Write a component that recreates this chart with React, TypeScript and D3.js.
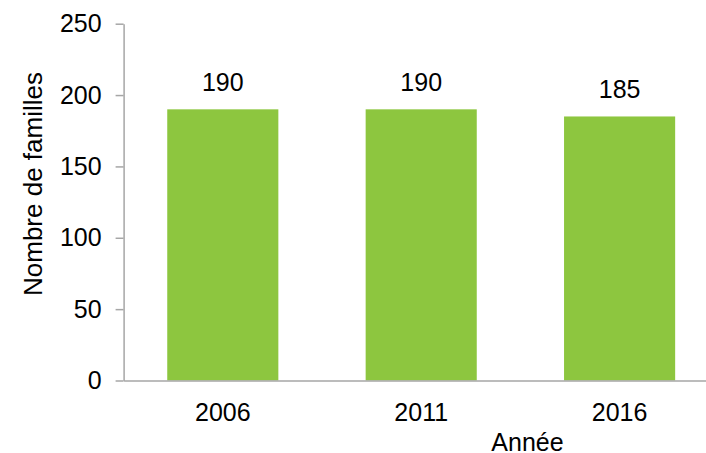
import React, { useEffect, useRef } from "react"
import * as d3 from "d3"

const years = ["2006", "2011", "2016"]
const familles = [190, 190, 185]
const yTicks = [0, 50, 100, 150, 200, 250]

const App = () => {
    const chartRef = useRef<SVGSVGElement | null>(null)

    useEffect(() => {
        if (!chartRef.current) return
        const svg = d3.select(chartRef.current)
        svg.selectAll("*").remove()

        const left = 123.6
        const top = 23.7
        const bottom = 380.5
        const step = 198.4

        const x = d3
            .scaleBand()
            .domain(years)
            .range([left, left + step * years.length])
            .paddingInner(0.44)
            .paddingOuter(0.22)

        const y = d3.scaleLinear().domain([0, 250]).range([bottom, top])

        const font = "'Liberation Sans', Arial, sans-serif"
        const fontSize = "25px"
        const axisColor = "#a6a6a6"

        // bars
        svg.append("g")
            .selectAll("rect")
            .data(years)
            .enter()
            .append("rect")
            .attr("x", (d) => x(d) as number)
            .attr("y", (d, i) => y(familles[i]))
            .attr("width", x.bandwidth())
            .attr("height", (d, i) => bottom - y(familles[i]))
            .attr("fill", "#8dc63f")

        // value labels
        svg.append("g")
            .selectAll("text")
            .data(years)
            .enter()
            .append("text")
            .attr("x", (d) => (x(d) as number) + x.bandwidth() / 2)
            .attr("y", (d, i) => y(familles[i]) - 18)
            .attr("text-anchor", "middle")
            .attr("font-family", font)
            .attr("font-size", fontSize)
            .attr("fill", "#000")
            .text((d, i) => familles[i])

        // y axis
        const yAxis = svg
            .append("g")
            .attr("transform", "translate(" + left + ",0)")
            .call(
                d3
                    .axisLeft(y)
                    .tickValues(yTicks)
                    .tickSize(8)
                    .tickSizeOuter(0)
                    .tickPadding(14),
            )
        yAxis.select(".domain").attr("stroke", axisColor).attr("stroke-width", 1.5)
        yAxis.selectAll(".tick line").attr("stroke", axisColor).attr("stroke-width", 1.5)
        yAxis
            .selectAll(".tick text")
            .attr("font-family", font)
            .attr("font-size", fontSize)
            .attr("fill", "#000")

        // x axis
        const xAxis = svg
            .append("g")
            .attr("transform", "translate(0," + bottom + ")")
            .call(d3.axisBottom(x).tickSize(0).tickSizeOuter(0).tickPadding(23))
        xAxis.select(".domain").attr("stroke", axisColor).attr("stroke-width", 1.5)
        xAxis
            .selectAll(".tick text")
            .attr("font-family", font)
            .attr("font-size", fontSize)
            .attr("fill", "#000")

        // axis titles
        svg.append("text")
            .attr("x", 527.5)
            .attr("y", 451)
            .attr("text-anchor", "middle")
            .attr("font-family", font)
            .attr("font-size", fontSize)
            .attr("fill", "#000")
            .text("Année")

        svg.append("text")
            .attr("transform", "translate(42,184) rotate(-90)")
            .attr("text-anchor", "middle")
            .attr("font-family", font)
            .attr("font-size", "26px")
            .attr("fill", "#000")
            .text("Nombre de familles")
    }, [])

    return (
        <svg
            ref={chartRef}
            width={706}
            height={453}
            style={{ position: "absolute", left: 0, top: 0, background: "#fff" }}
        />
    )
}

export default App
